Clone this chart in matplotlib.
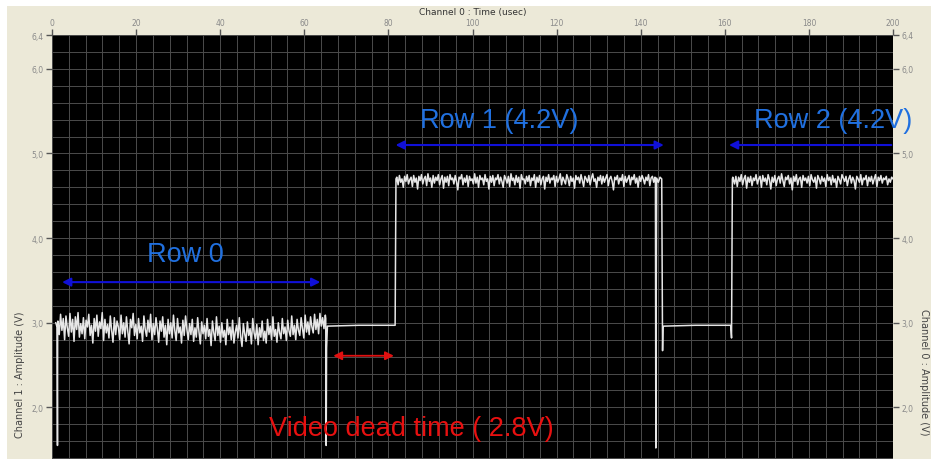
import numpy as np
import matplotlib
matplotlib.use("Agg")
import matplotlib.pyplot as plt
from matplotlib.patches import Rectangle

# ---------------- data ----------------
x_ticks = [0, 20, 40, 60, 80, 100, 120, 140, 160, 180, 200]
y_ticks = [2.0, 3.0, 4.0, 5.0, 6.0, 6.4]
y_tick_labels = ["2,0", "3,0", "4,0", "5,0", "6,0", "6,4"]

# trace pieces (time in usec, amplitude in V)
start_t = [0.9, 1.2, 1.3, 1.35]
start_v = [3.00, 2.95, 1.55, 2.97]

row0_span = (1.4, 65.0)
row0_v = [3.02, 2.86, 3.10, 2.91, 3.05, 2.80, 3.08, 2.94, 2.84, 3.11,
          2.89, 3.04, 2.78, 3.07, 2.92, 3.12, 2.83, 2.99, 2.87, 3.06,
          2.81, 3.03, 2.95, 3.10, 2.85, 2.97, 2.76, 3.05, 2.90, 3.09,
          2.84, 3.01, 2.93, 3.12, 2.79, 3.04, 2.88, 2.98, 2.82, 3.08,
          2.91, 2.77, 3.06, 2.86, 3.02, 2.95, 2.80, 3.09, 2.87, 3.00,
          2.83, 3.07, 2.90, 2.75, 3.04, 2.94, 3.11, 2.85, 2.98, 2.81,
          3.05, 2.88, 2.96, 2.78, 3.08, 2.92, 2.84, 3.03, 2.89, 3.10,
          2.80, 2.99, 2.86, 3.06, 2.93, 2.77, 3.02, 2.90, 3.07, 2.83,
          2.97, 2.74, 3.04, 2.87, 3.00, 2.82, 3.09, 2.91, 2.79, 3.05,
          2.88, 2.95, 2.76, 3.03, 2.85, 3.08, 2.92, 2.80, 2.99, 2.86,
          3.04, 2.78, 2.94, 2.83, 3.06, 2.89, 2.75, 3.01, 2.87, 2.97,
          2.81, 3.05, 2.84, 2.92, 2.73, 3.02, 2.88, 2.79, 3.07, 2.85,
          2.96, 2.77, 3.00, 2.83, 2.91, 2.74, 3.04, 2.86, 2.95, 2.80,
          3.03, 2.76, 2.89, 2.97, 2.82, 3.06, 2.84, 2.72, 2.99, 2.87,
          2.78, 3.01, 2.85, 2.93, 2.75, 3.05, 2.88, 2.81, 2.98, 2.74,
          2.94, 2.83, 3.02, 2.79, 2.90, 2.76, 3.04, 2.86, 2.96, 2.80,
          3.07, 2.84, 2.92, 2.77, 3.00, 2.88, 2.81, 3.05, 2.87, 2.95,
          2.79, 3.03, 2.90, 2.84, 3.08, 2.86, 2.97, 2.80, 3.04, 2.91,
          2.85, 3.06, 2.93, 2.82, 3.09, 2.89, 3.01, 2.86, 3.07, 2.95,
          2.88, 3.10, 2.92, 3.04, 2.87, 3.11, 2.96, 3.06, 2.93, 3.09]

gap1_t = [65.1, 65.2, 65.3, 65.5, 73.0, 81.6, 81.8, 81.9]
gap1_v = [3.05, 1.55, 2.70, 2.96, 2.97, 2.97, 4.70, 4.71]

row1_span = (82.0, 143.4)
row1_v = [4.72, 4.63, 4.74, 4.66, 4.70, 4.60, 4.73, 4.67, 4.75, 4.64,
          4.69, 4.72, 4.61, 4.74, 4.66, 4.71, 4.58, 4.73, 4.68, 4.75,
          4.64, 4.70, 4.73, 4.62, 4.76, 4.67, 4.71, 4.60, 4.74, 4.65,
          4.72, 4.68, 4.75, 4.63, 4.70, 4.74, 4.59, 4.72, 4.66, 4.73,
          4.62, 4.75, 4.69, 4.71, 4.64, 4.74, 4.67, 4.57, 4.72, 4.70,
          4.75, 4.63, 4.71, 4.66, 4.74, 4.61, 4.73, 4.68, 4.70, 4.64,
          4.76, 4.65, 4.72, 4.60, 4.74, 4.69, 4.71, 4.63, 4.75, 4.67,
          4.70, 4.58, 4.73, 4.66, 4.74, 4.62, 4.71, 4.69, 4.75, 4.64,
          4.72, 4.67, 4.60, 4.74, 4.70, 4.65, 4.73, 4.61, 4.76, 4.68,
          4.71, 4.63, 4.74, 4.66, 4.72, 4.59, 4.75, 4.69, 4.70, 4.64,
          4.73, 4.67, 4.74, 4.62, 4.71, 4.68, 4.75, 4.60, 4.72, 4.66,
          4.74, 4.63, 4.70, 4.73, 4.58, 4.72, 4.67, 4.75, 4.65, 4.71,
          4.69, 4.74, 4.61, 4.73, 4.66, 4.70, 4.76, 4.63, 4.72, 4.68,
          4.64, 4.75, 4.70, 4.62, 4.73, 4.67, 4.71, 4.59, 4.74, 4.69,
          4.72, 4.65, 4.75, 4.68, 4.61, 4.73, 4.70, 4.66, 4.74, 4.63,
          4.71, 4.76, 4.67, 4.70, 4.60, 4.72, 4.68, 4.74, 4.64, 4.73,
          4.66, 4.71, 4.75, 4.62, 4.70, 4.73, 4.67, 4.57, 4.72, 4.69,
          4.74, 4.64, 4.71, 4.68, 4.75, 4.61, 4.73, 4.66, 4.70, 4.74,
          4.63, 4.72, 4.69, 4.75, 4.65, 4.71, 4.60, 4.73, 4.67, 4.74,
          4.70, 4.64, 4.72, 4.68, 4.75, 4.62, 4.71, 4.73, 4.66, 4.72]

gap2_t = [143.5, 143.6, 143.7, 143.8, 144.2, 144.6, 145.0, 145.2, 145.3, 145.5,
          153.0, 161.4, 161.6, 161.8, 161.9]
gap2_v = [4.70, 1.52, 3.40, 4.71, 4.66, 4.72, 4.70, 2.67, 2.95, 2.96,
          2.97, 2.97, 2.82, 4.70, 4.72]

row2_span = (162.0, 200.0)
row2_v = [4.70, 4.64, 4.73, 4.61, 4.72, 4.67, 4.75, 4.63, 4.70, 4.74,
          4.59, 4.72, 4.66, 4.73, 4.62, 4.71, 4.68, 4.75, 4.64, 4.70,
          4.73, 4.60, 4.74, 4.67, 4.71, 4.63, 4.75, 4.69, 4.58, 4.72,
          4.66, 4.74, 4.62, 4.70, 4.73, 4.65, 4.76, 4.68, 4.61, 4.72,
          4.69, 4.74, 4.64, 4.71, 4.57, 4.73, 4.67, 4.75, 4.63, 4.70,
          4.72, 4.60, 4.74, 4.68, 4.71, 4.65, 4.73, 4.62, 4.75, 4.69,
          4.66, 4.72, 4.59, 4.74, 4.70, 4.64, 4.73, 4.67, 4.71, 4.61,
          4.75, 4.68, 4.72, 4.63, 4.74, 4.66, 4.70, 4.60, 4.73, 4.69,
          4.64, 4.75, 4.71, 4.67, 4.73, 4.62, 4.70, 4.74, 4.65, 4.72,
          4.68, 4.58, 4.73, 4.70, 4.66, 4.75, 4.63, 4.71, 4.69, 4.74,
          4.62, 4.72, 4.67, 4.73, 4.64, 4.70, 4.75, 4.61, 4.72, 4.68,
          4.74, 4.65, 4.71, 4.69, 4.73, 4.63, 4.70, 4.66, 4.72, 4.70]

# annotations: (label, x, y)
labels = [("Row 0", 31.7, 3.81), ("Row 1 (4.2V)", 106.4, 5.40),
          ("Row 2 (4.2V)", 185.8, 5.40)]
row_arrows = [(2.4, 63.8, 3.48, "<|-|>"), (81.7, 145.5, 5.10, "<|-|>"),
              (161.0, 199.6, 5.10, "<|-")]
dead_arrow = (66.9, 81.3, 2.61)
dead_label = ("Video dead time ( 2.8V)", 85.5, 1.76)

# ---------------- figure ----------------
fig = plt.figure(figsize=(9.31, 4.6), dpi=100, facecolor="white")
fig.patches.append(Rectangle((7 / 931, 0), 1, 1 - 7 / 460, transform=fig.transFigure,
                             facecolor="#ECE9D8", edgecolor="none", zorder=-10))

ax = fig.add_axes([52 / 931, 0.0, (893 - 52) / 931, 1 - 36 / 460])
ax.set_facecolor("black")
ax.set_xlim(0, 200)
ax.set_ylim(1.39, 6.4)

t_all = np.concatenate([
    start_t,
    np.linspace(row0_span[0], row0_span[1], len(row0_v)),
    gap1_t,
    np.linspace(row1_span[0], row1_span[1], len(row1_v)),
    gap2_t,
    np.linspace(row2_span[0], row2_span[1], len(row2_v)),
])
v_all = np.concatenate([start_v, row0_v, gap1_v, row1_v, gap2_v, row2_v])
ax.plot(t_all, v_all, color="#e6e6e6", lw=1.1, zorder=3)

# grid
ax.set_xticks(np.arange(0, 201, 4), minor=True)
ax.set_yticks(np.arange(1.4, 6.41, 0.2), minor=True)
ax.grid(which="both", color="#4c4c4c", lw=0.7, zorder=1)
ax.set_axisbelow(True)

tick_kw = dict(labelsize=5.5, labelcolor="#8a8a8a", color="#555555", width=1.0, length=4)
ax.xaxis.tick_top()
ax.xaxis.set_label_position("top")
ax.set_xticks(x_ticks)
ax.set_xticklabels([str(v) for v in x_ticks])
ax.set_yticks(y_ticks)
ax.set_yticklabels(y_tick_labels)
ax.tick_params(axis="both", which="major", pad=2, **tick_kw)
ax.tick_params(axis="both", which="minor", length=0)
ax.set_xlabel("Channel 0 : Time (usec)", fontsize=6.5, color="#333333", labelpad=3)

ax2 = ax.twinx()
ax2.set_ylim(ax.get_ylim())
ax2.set_yticks(y_ticks)
ax2.set_yticklabels(y_tick_labels)
ax2.tick_params(axis="y", pad=2, **tick_kw)
for s in list(ax.spines.values()) + list(ax2.spines.values()):
    s.set_visible(False)

fig.text(20 / 931, 1 - 375 / 460, "Channel 1 : Amplitude (V)", rotation=90,
         ha="center", va="center", fontsize=7, color="#444444")
fig.text(924 / 931, 1 - 372 / 460, "Channel 0 : Amplitude (V)", rotation=270,
         ha="center", va="center", fontsize=7, color="#444444")

# annotations
for x0, x1, y, style in row_arrows:
    ax.annotate("", xy=(x1, y), xytext=(x0, y),
                arrowprops=dict(arrowstyle=style + ",head_length=0.5,head_width=0.25",
                                color="#1010d8", lw=1.5, shrinkA=0, shrinkB=0),
                zorder=4)
for txt, x, y in labels:
    ax.text(x, y, txt, color="#2070e0", fontsize=19.5, family="Liberation Sans",
            ha="center", va="center", clip_on=False, zorder=5)

ax.annotate("", xy=(dead_arrow[1], dead_arrow[2]), xytext=(dead_arrow[0], dead_arrow[2]),
            arrowprops=dict(arrowstyle="<|-|>,head_length=0.5,head_width=0.25",
                            color="#e01010", lw=1.3, shrinkA=0, shrinkB=0), zorder=4)
ax.text(dead_label[1], dead_label[2], dead_label[0], color="#e81010", fontsize=19.5,
        family="Liberation Sans", ha="center", va="center", zorder=5)

fig.savefig("out.png", dpi=100, facecolor=fig.get_facecolor())
